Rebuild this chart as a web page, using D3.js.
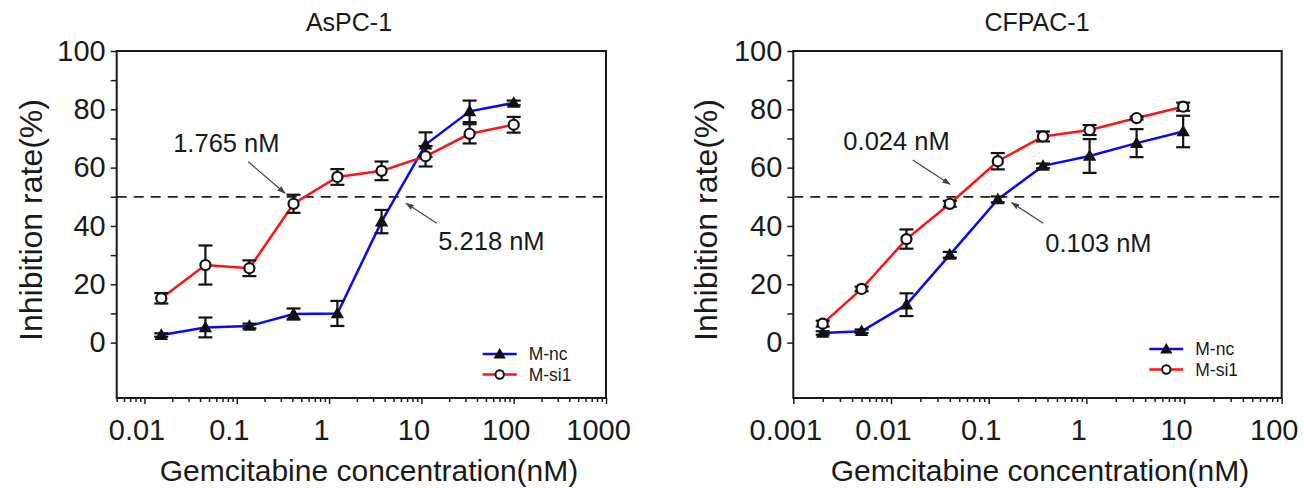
<!DOCTYPE html>
<html><head><meta charset="utf-8">
<script src="https://cdn.jsdelivr.net/npm/d3@7"></script>
<style>
body{margin:0;background:#fff;}
svg text{font-family:"Liberation Sans",Arial,Helvetica,sans-serif;fill:#1a1a1a;}
</style>
</head><body>
<svg id="chart" width="1304" height="488"></svg>
<script>
// ---------- data ----------
const titles = ["AsPC-1", "CFPAC-1"];
const seriesNames = ["M-nc", "M-si1"];
const asX = [0.0152, 0.0457, 0.137, 0.412, 1.23, 3.70, 11.1, 33.3, 100];
const asNc = [2.6, 5.2, 5.7, 9.8, 10.0, 41.5, 67.9, 79.3, 82.2];
const asNcErr = [0.6, 3.4, 0.8, 1.9, 4.3, 4.0, 4.2, 3.7, 0.8];
const asSi = [15.2, 26.6, 25.5, 47.6, 56.8, 58.9, 63.9, 71.6, 74.7];
const asSiErr = [1.8, 6.7, 2.7, 3.1, 2.7, 3.2, 3.5, 3.3, 2.7];
const cfX = [0.002, 0.005, 0.0144, 0.040, 0.124, 0.36, 1.08, 3.27, 9.8];
const cfNc = [3.3, 3.9, 13.0, 30.1, 49.1, 60.6, 64.0, 68.4, 72.4];
const cfNcErr = [0.6, 0.6, 3.9, 1.0, 1.0, 0.8, 5.8, 4.8, 5.4];
const cfSi = [6.5, 18.4, 35.5, 47.6, 62.2, 70.7, 72.9, 77.0, 80.9];
const cfSiErr = [1.0, 0.8, 3.3, 1.0, 2.8, 1.7, 1.7, 0.5, 1.4];
const yTicks = [0, 20, 40, 60, 80, 100];
const yMinorTicks = [10, 30, 50, 70, 90];
const asXTicks = [0.01, 0.1, 1, 10, 100, 1000];
const cfXTicks = [0.001, 0.01, 0.1, 1, 10, 100];
const halfLine = 50;
// IC50 annotations: [label, textX, textY, arrowFromX, arrowFromY, arrowToX, arrowToY] in data units
const asNotes = [["1.765 nM", 0.0771, 65.5, 0.133, 62.0, 0.333, 51.2],
                 ["5.218 nM", 57.4, 31.8, 14.7, 40.9, 6.81, 47.8]];
const cfNotes = [["0.024 nM", 0.0114, 66.0, 0.0167, 62.6, 0.0402, 54.3],
                 ["0.103 nM", 1.33, 31.2, 0.362, 40.9, 0.172, 48.0]];

const xLabel = "Gemcitabine concentration(nM)";
const yLabel = "Inhibition rate(%)";

// ---------- layout ----------
const svg = d3.select("#chart");
const yDomain = [-19, 100];
const plotTop = 51, plotBottom = 398;
const colors = {nc: "#0a0af0", si: "#ff1414"};

svg.append("defs").append("marker")
  .attr("id", "arr").attr("viewBox", "0 0 10 10").attr("refX", 9).attr("refY", 5)
  .attr("markerWidth", 7).attr("markerHeight", 7).attr("orient", "auto")
  .append("path").attr("d", "M0,1.5 L10,5 L0,8.5 Z").attr("fill", "#444");

const panels = [
  {title: titles[0], xs: asX, nc: asNc, ncErr: asNcErr, si: asSi, siErr: asSiErr,
   ticks: asXTicks, domain: [0.005, 1000], left: 116.7, right: 606, notes: asNotes,
   titleX: 349, yLabX: 31, xLabX: 369, legX: 366, legY: [354, 374.5]},
  {title: titles[1], xs: cfX, nc: cfNc, ncErr: cfNcErr, si: cfSi, siErr: cfSiErr,
   ticks: cfXTicks, domain: [0.001, 100], left: 793.3, right: 1281.7, notes: cfNotes,
   titleX: 1037, yLabX: 706, xLabX: 1040, legX: 356, legY: [349, 369.5]}
];

panels.forEach(p => {
  const x = d3.scaleLog().domain(p.domain).range([p.left, p.right]);
  const y = d3.scaleLinear().domain(yDomain).range([plotBottom, plotTop]);
  const g = svg.append("g");

  // minor x ticks
  const minor = [];
  const d0 = Math.round(Math.log10(p.domain[0]) - 1), d1 = Math.round(Math.log10(p.domain[1]));
  for (let e = d0; e <= d1; e++) for (let m = 2; m <= 9; m++) {
    const v = m * Math.pow(10, e);
    if (v >= p.domain[0] * 0.999 && v <= p.domain[1]) minor.push(v);
  }
  g.append("g").attr("transform", `translate(0,${plotBottom})`)
    .call(d3.axisBottom(x).tickValues(minor).tickSize(4).tickFormat(""))
    .call(a => a.select(".domain").remove())
    .selectAll("line").attr("stroke", "#1a1a1a").attr("stroke-width", 1.5);

  const xa = g.append("g").attr("transform", `translate(0,${plotBottom})`)
    .call(d3.axisBottom(x).tickValues(p.ticks).tickSize(6).tickFormat(d => String(d)));
  xa.select(".domain").remove();
  xa.selectAll("line").attr("stroke", "#1a1a1a").attr("stroke-width", 1.5);
  xa.selectAll("text").attr("y", 42).attr("dy", 0).attr("dx", -8)
    .style("font-size", "29px").attr("fill", "#1a1a1a");

  // y axis
  g.append("g").attr("transform", `translate(${p.left},0)`)
    .call(d3.axisLeft(y).tickValues(yMinorTicks).tickSize(6).tickFormat(""))
    .call(a => a.select(".domain").remove())
    .selectAll("line").attr("stroke", "#1a1a1a").attr("stroke-width", 1.5);
  const ya = g.append("g").attr("transform", `translate(${p.left},0)`)
    .call(d3.axisLeft(y).tickValues(yTicks).tickSize(6).tickPadding(5));
  ya.select(".domain").remove();
  ya.selectAll("line").attr("stroke", "#1a1a1a").attr("stroke-width", 1.5);
  ya.selectAll("text").style("font-size", "29px").attr("fill", "#1a1a1a");

  // frame
  g.append("rect").attr("x", p.left).attr("y", plotTop)
    .attr("width", p.right - p.left).attr("height", plotBottom - plotTop)
    .attr("fill", "none").attr("stroke", "#1a1a1a").attr("stroke-width", 2);

  // 50% dashed line
  g.append("line").attr("x1", p.left).attr("x2", p.right)
    .attr("y1", y(halfLine)).attr("y2", y(halfLine))
    .attr("stroke", "#222").attr("stroke-width", 1.8).attr("stroke-dasharray", "10,7");

  // titles
  g.append("text").attr("x", p.titleX).attr("y", 31).attr("text-anchor", "middle")
    .style("font-size", "25px").text(p.title);
  g.append("text").attr("x", p.xLabX).attr("y", 481).attr("text-anchor", "middle")
    .style("font-size", "30px").text(xLabel);
  g.append("text").attr("transform", `translate(${p.yLabX},220) rotate(-90)`)
    .attr("text-anchor", "middle").attr("dy", "0.35em")
    .style("font-size", "32px").text(yLabel);

  // series
  const series = [
    {vals: p.nc, err: p.ncErr, color: colors.nc, shape: "tri"},
    {vals: p.si, err: p.siErr, color: colors.si, shape: "circ"}
  ];
  const line = d3.line().x(d => x(d[0])).y(d => y(d[1]));
  series.forEach(s => {
    const pts = p.xs.map((xv, i) => [xv, s.vals[i], s.err[i]]);
    g.append("path").datum(pts).attr("d", line).attr("fill", "none")
      .attr("stroke", s.color).attr("stroke-width", 2.5);
  });
  series.forEach(s => {
    const pts = p.xs.map((xv, i) => [xv, s.vals[i], s.err[i]]);
    const eb = g.append("g").attr("stroke", "#111").attr("stroke-width", 2.2);
    pts.forEach(d => {
      const cx = x(d[0]), y1 = y(d[1] + d[2]), y2 = y(d[1] - d[2]);
      eb.append("line").attr("x1", cx).attr("x2", cx).attr("y1", y1).attr("y2", y2);
      eb.append("line").attr("x1", cx - 7).attr("x2", cx + 7).attr("y1", y1).attr("y2", y1);
      eb.append("line").attr("x1", cx - 7).attr("x2", cx + 7).attr("y1", y2).attr("y2", y2);
    });
    const sym = s.shape === "tri" ? d3.symbol(d3.symbolTriangle, 78) : d3.symbol(d3.symbolCircle, 80);
    g.selectAll(null).data(pts).enter().append("path")
      .attr("transform", d => `translate(${x(d[0])},${y(d[1]) + (s.shape === "tri" ? 1 : 0)})`)
      .attr("d", sym)
      .attr("fill", s.shape === "tri" ? "#111" : "#fff")
      .attr("stroke", "#111").attr("stroke-width", s.shape === "tri" ? 0 : 2.2);
  });

  // annotations
  p.notes.forEach(n => {
    g.append("text").attr("x", x(n[1])).attr("y", y(n[2])).attr("text-anchor", "middle")
      .style("font-size", "25.5px").text(n[0]);
    g.append("line").attr("x1", x(n[3])).attr("y1", y(n[4])).attr("x2", x(n[5])).attr("y2", y(n[6]))
      .attr("stroke", "#444").attr("stroke-width", 1.2).attr("marker-end", "url(#arr)");
  });

  // legend
  series.forEach((s, i) => {
    const lx = p.left + p.legX, ly = p.legY[i];
    g.append("line").attr("x1", lx).attr("x2", lx + 34).attr("y1", ly).attr("y2", ly)
      .attr("stroke", s.color).attr("stroke-width", 2.5);
    const sym = s.shape === "tri" ? d3.symbol(d3.symbolTriangle, 65) : d3.symbol(d3.symbolCircle, 55);
    g.append("path").attr("transform", `translate(${lx + 17},${ly + (s.shape === "tri" ? 1 : 0)})`)
      .attr("d", sym).attr("fill", s.shape === "tri" ? "#111" : "#fff")
      .attr("stroke", "#111").attr("stroke-width", s.shape === "tri" ? 0 : 2);
    g.append("text").attr("x", lx + 46).attr("y", ly).attr("dy", "0.35em")
      .style("font-size", "17.5px").text(seriesNames[i]);
  });
});
</script>
</body></html>
